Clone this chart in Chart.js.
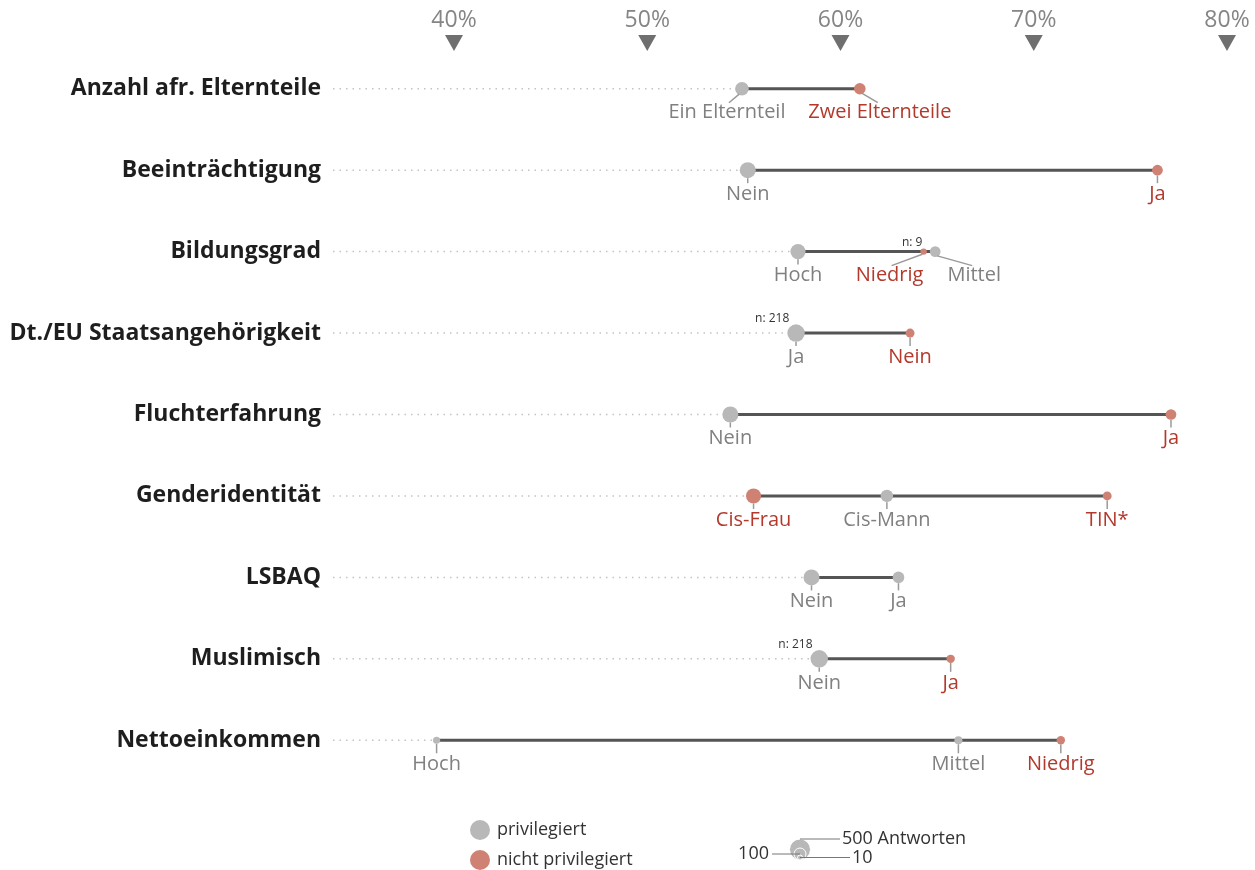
<!DOCTYPE html>
<html>
<head>
<meta charset="utf-8">
<script src="https://cdn.jsdelivr.net/npm/chart.js@4.4.1/dist/chart.umd.min.js"></script>
<style>
  body { margin: 0; background: #fff; }
  #wrap { width: 1255px; height: 870px; }
</style>
</head>
<body>
<div id="wrap"><canvas id="dumbbell"></canvas></div>
<script>
/* ======================
   DATA
====================== */

const categories = [
  "Anzahl afr. Elternteile",
  "Beeinträchtigung",
  "Bildungsgrad",
  "Dt./EU Staatsangehörigkeit",
  "Fluchterfahrung",
  "Genderidentität",
  "LSBAQ",
  "Muslimisch",
  "Nettoeinkommen"
];

const groups = [
  ["Ein Elternteil", "Zwei Elternteile"],
  ["Nein", "Ja"],
  ["Hoch", "Niedrig", "Mittel"],
  ["Ja", "Nein"],
  ["Nein", "Ja"],
  ["Cis-Frau", "Cis-Mann", "TIN*"],
  ["Nein", "Ja"],
  ["Nein", "Ja"],
  ["Hoch", "Mittel", "Niedrig"]
];

// share in percent
const shares = [
  [54.9, 61.0],
  [55.2, 76.4],
  [57.8, 64.3, 64.9],
  [57.7, 63.6],
  [54.3, 77.1],
  [55.5, 62.4, 73.8],
  [58.5, 63.0],
  [58.9, 65.7],
  [39.1, 66.1, 71.4]
];

// number of answers
const counts = [
  [115, 72],
  [174, 57],
  [150, 9, 57],
  [218, 32],
  [174, 57],
  [150, 89, 32],
  [174, 72],
  [218, 26],
  [14, 22, 26]
];

// 1 = privilegiert, 0 = nicht privilegiert
const privileged = [
  [1, 0],
  [1, 0],
  [1, 0, 1],
  [1, 0],
  [1, 0],
  [0, 1, 0],
  [1, 1],
  [1, 0],
  [1, 1, 0]
];

const showCount = [
  [0, 0],
  [0, 0],
  [0, 1, 0],
  [1, 0],
  [0, 0],
  [0, 0, 0],
  [0, 0],
  [1, 0],
  [0, 0, 0]
];

const xTicks = [40, 50, 60, 70, 80];
const sizeLegend = [500, 100, 10];

/* ======================
   STYLE
====================== */

const GREY = "#b8b8b8";
const RED = "#cf8273";
const GREY_TEXT = "#808080";
const RED_TEXT = "#b3392c";
const FONT = "'Open Sans', sans-serif";

// sideways shift of some labels (drawn with a leader line)
const labelShift = { "0-0": -15, "0-1": 20, "2-1": -34, "2-2": 39 };
// radii used for the size key circles
const sizeLegendRadius = [10.5, 6, 2.5];

const radius = n => 1.8 + 0.47 * Math.sqrt(n);

/* ======================
   DATASETS
====================== */

const dots = [];
categories.forEach((cat, i) => {
  shares[i].forEach((v, j) => {
    dots.push({
      x: v, y: cat, row: i, idx: j,
      n: counts[i][j], priv: privileged[i][j],
      label: groups[i][j], showN: showCount[i][j]
    });
  });
});

const lineSets = categories.map((cat, i) => ({
  data: shares[i].slice().sort((a, b) => a - b).map(v => ({ x: v, y: cat })),
  showLine: true,
  borderColor: "#555",
  borderWidth: 3,
  pointRadius: 0,
  order: 2
}));

/* ======================
   PLUGIN: dotted guides, labels, ticks, legend
====================== */

const decor = {
  id: "decor",
  beforeDatasetsDraw(chart) {
    const { ctx, chartArea, scales: { x, y } } = chart;
    ctx.save();
    ctx.strokeStyle = "#c4c4c4";
    ctx.lineWidth = 1.5;
    ctx.setLineDash([1.5, 5]);
    categories.forEach((cat, i) => {
      const yy = y.getPixelForValue(i);
      const vMin = Math.min(...shares[i]);
      const xMin = x.getPixelForValue(vMin);
      ctx.beginPath();
      ctx.moveTo(chartArea.left, yy);
      ctx.lineTo(xMin - radius(counts[i][shares[i].indexOf(vMin)]), yy);
      ctx.stroke();
    });
    ctx.restore();
  },
  afterDatasetsDraw(chart) {
    const { ctx, scales: { x, y } } = chart;
    ctx.save();
    dots.forEach(d => {
      const px = x.getPixelForValue(d.x);
      const py = y.getPixelForValue(d.row);
      const r = radius(d.n);
      const shift = labelShift[d.row + "-" + d.idx] || 0;
      ctx.strokeStyle = "#9a9a9a";
      ctx.lineWidth = 1.5;
      ctx.beginPath();
      if (shift) {
        const s = Math.sign(shift);
        ctx.moveTo(px + s * r * 0.4, py + r * 0.8);
        ctx.lineTo(px + shift - s * 2, py + 14);
      } else {
        ctx.moveTo(px, py + r);
        ctx.lineTo(px, py + 13);
      }
      ctx.stroke();

      ctx.font = "20px " + FONT;
      ctx.fillStyle = d.priv ? GREY_TEXT : RED_TEXT;
      ctx.textAlign = "center";
      ctx.textBaseline = "middle";
      ctx.fillText(d.label, px + shift, py + 24);

      if (d.showN) {
        ctx.font = "12px " + FONT;
        ctx.fillStyle = "#333";
        ctx.textAlign = "right";
        ctx.fillText("n: " + d.n, px - r + 2, py - r - 6);
      }
    });
    ctx.restore();
  },
  afterDraw(chart) {
    const { ctx, scales: { x } } = chart;
    ctx.save();
    // triangles under the top ticks
    ctx.fillStyle = "#6f6f6f";
    xTicks.forEach(v => {
      const px = x.getPixelForValue(v);
      ctx.beginPath();
      ctx.moveTo(px - 9, 35);
      ctx.lineTo(px + 9, 35);
      ctx.lineTo(px, 51);
      ctx.closePath();
      ctx.fill();
    });

    // colour legend
    ctx.font = "18px " + FONT;
    ctx.textAlign = "left";
    ctx.textBaseline = "middle";
    [["privilegiert", GREY, 830], ["nicht privilegiert", RED, 860]].forEach(([t, c, yy]) => {
      ctx.fillStyle = c;
      ctx.beginPath();
      ctx.arc(480, yy, 10, 0, Math.PI * 2);
      ctx.fill();
      ctx.fillStyle = "#333";
      ctx.fillText(t, 497, yy);
    });

    // size legend
    const cx = 800, base = 860;
    sizeLegendRadius.forEach(r => {
      ctx.fillStyle = GREY;
      ctx.strokeStyle = "#fff";
      ctx.lineWidth = 1;
      ctx.beginPath();
      ctx.arc(cx, base - r, r, 0, Math.PI * 2);
      ctx.fill();
      ctx.stroke();
    });
    const [rBig, rMid, rSmall] = sizeLegendRadius;
    ctx.strokeStyle = "#777";
    ctx.lineWidth = 1;
    ctx.fillStyle = "#333";
    ctx.beginPath();
    ctx.moveTo(cx, base - 2 * rBig); ctx.lineTo(840, base - 2 * rBig);
    ctx.moveTo(772, base - rMid); ctx.lineTo(cx, base - rMid);
    ctx.moveTo(cx, base - rSmall); ctx.lineTo(850, base - rSmall);
    ctx.stroke();
    ctx.textAlign = "left";
    ctx.fillText(sizeLegend[0] + " Antworten", 842, base - 2 * rBig);
    ctx.fillText(String(sizeLegend[2]), 852, base - rSmall);
    ctx.textAlign = "right";
    ctx.fillText(String(sizeLegend[1]), 769, base - rMid);
    ctx.restore();
  }
};

/* ======================
   CHART
====================== */

new Chart(document.getElementById("dumbbell"), {
  type: "scatter",
  data: {
    datasets: [
      {
        data: dots,
        pointRadius: ctx => radius(ctx.raw.n),
        pointHoverRadius: ctx => radius(ctx.raw.n),
        backgroundColor: ctx => ctx.raw.priv ? GREY : RED,
        borderWidth: 0,
        order: 1
      },
      ...lineSets
    ]
  },
  options: {
    responsive: true,
    maintainAspectRatio: false,
    animation: false,
    layout: { padding: { left: 0, right: 10, top: 0, bottom: 89 } },
    plugins: { legend: { display: false }, tooltip: { enabled: false } },
    scales: {
      x: {
        position: "top",
        min: 33.74,
        max: 80.93,
        afterBuildTicks: axis => { axis.ticks = xTicks.map(v => ({ value: v })); },
        afterFit: scale => {
          scale.height = 48;
          scale.paddingLeft = 0;
          scale.paddingRight = 0;
        },
        grid: { display: false, drawTicks: false },
        border: { display: false },
        ticks: {
          padding: 14,
          color: "#858585",
          font: { family: FONT, size: 23 },
          callback: v => v + "%"
        }
      },
      y: {
        type: "category",
        labels: categories,
        offset: true,
        afterFit: scale => { scale.width = 333; },
        grid: { display: false, drawTicks: false },
        border: { display: false },
        ticks: {
          padding: 12,
          color: "#1e1e1e",
          font: { family: FONT, size: 23, weight: "bold" }
        }
      }
    }
  },
  plugins: [decor]
});
</script>
</body>
</html>
